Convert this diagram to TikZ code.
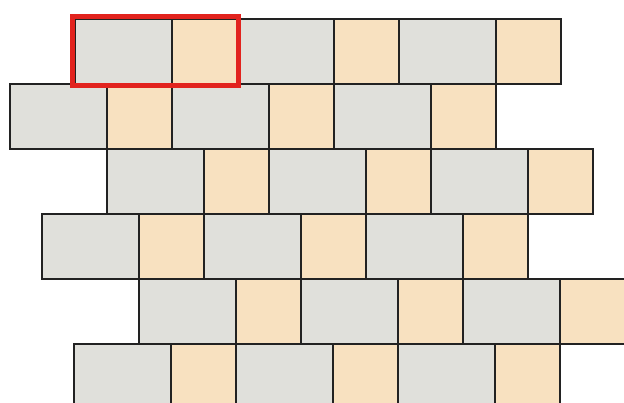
\documentclass[tikz,border=0pt]{standalone}
\definecolor{tilegray}{RGB}{224,224,219}
\definecolor{tiletan}{RGB}{248,225,192}
\definecolor{tileline}{RGB}{34,34,34}
\definecolor{hilite}{RGB}{226,35,30}
\tikzset{
  graytile/.style={fill=tilegray,draw=tileline,line width=2pt},
  tantile/.style={fill=tiletan,draw=tileline,line width=2pt},
  selbox/.style={draw=hilite,line width=5pt}
}
\begin{document}
\begin{tikzpicture}[x=1pt,y=-1pt]
\useasboundingbox (0,0) rectangle (624,403);
\clip (0,0) rectangle (624,403);
\foreach \r/\xs in {0/75,1/10,2/107,3/42,4/139,5/74}{
  \foreach \k in {0,1,2}{
    \pgfmathsetmacro{\xa}{\xs+162*\k}
    \pgfmathsetmacro{\xb}{\xa+97}
    \pgfmathsetmacro{\xc}{\xb+65}
    \pgfmathsetmacro{\ya}{19+65*\r}
    \pgfmathsetmacro{\yb}{\ya+65}
    \draw[graytile] (\xa,\ya) rectangle (\xb,\yb);
    \draw[tantile] (\xb,\ya) rectangle (\xc,\yb);
  }
}
\draw[selbox] (72.5,16.5) rectangle (238.5,85.5);
\end{tikzpicture}
\end{document}
